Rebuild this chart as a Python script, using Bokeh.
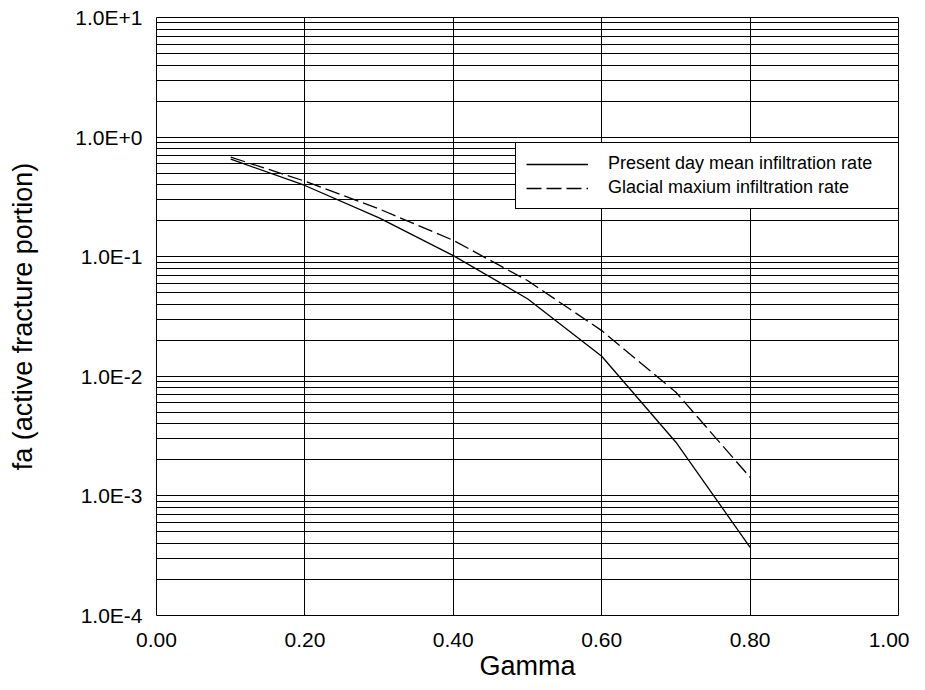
from bokeh.plotting import figure
from bokeh.models import (Range1d, FixedTicker, CustomJSTickFormatter, Legend,
                          LegendItem)
from bokeh.embed import file_html
from bokeh.resources import INLINE

# ---- data ----
gamma = [0.1, 0.2, 0.3, 0.4, 0.5, 0.6, 0.7, 0.8]
fa_present = [0.655, 0.394, 0.211, 0.102, 0.0445, 0.0147, 0.00281, 0.000372]
fa_glacial = [0.68, 0.428, 0.251, 0.137, 0.0632, 0.0241, 0.00736, 0.00143]

series_labels = ["Present day mean infiltration rate", "Glacial maxium infiltration rate"]

x_ticks = [0.0, 0.2, 0.4, 0.6, 0.8, 1.0]
x_tick_labels = ["0.00", "0.20", "0.40", "0.60", "0.80", "1.00"]
y_ticks = [1e-4, 1e-3, 1e-2, 1e-1, 1.0, 10.0]
y_tick_labels = ["1.0E-4", "1.0E-3", "1.0E-2", "1.0E-1", "1.0E+0", "1.0E+1"]
y_minor = [k * 10.0 ** e for e in range(-4, 1) for k in range(2, 10)]

x_title = "Gamma"
y_title = "fa (active fracture portion)"

FONT = "Liberation Sans"

p = figure(width=909, height=688, output_backend="svg", toolbar_location=None,
           x_range=Range1d(0, 1), y_range=Range1d(1e-4, 10), y_axis_type="log",
           min_border_left=156, min_border_right=11, min_border_top=17,
           min_border_bottom=73)
p.background_fill_color = "white"
p.border_fill_color = "white"
p.outline_line_color = "black"
p.outline_line_width = 1
p.outline_line_alpha = 1

r1 = p.line(gamma, fa_present, line_color="black", line_width=1.3)
r2 = p.line(gamma, fa_glacial, line_color="black", line_width=1.3, line_dash="15 5")

# axes
p.xaxis.ticker = FixedTicker(ticks=x_ticks)
p.xaxis.formatter = CustomJSTickFormatter(args=dict(vals=x_ticks, labels=x_tick_labels), code="""
    let best = 0, d = 1e9;
    for (let i = 0; i < vals.length; i++) { const dd = Math.abs(vals[i] - tick); if (dd < d) { d = dd; best = i; } }
    return labels[best];
""")
p.yaxis.ticker = FixedTicker(ticks=y_ticks, minor_ticks=y_minor)
p.yaxis.formatter = CustomJSTickFormatter(args=dict(vals=y_ticks, labels=y_tick_labels), code="""
    let best = 0, d = 1e9;
    for (let i = 0; i < vals.length; i++) { const dd = Math.abs(Math.log10(vals[i]) - Math.log10(tick)); if (dd < d) { d = dd; best = i; } }
    return labels[best];
""")
for ax in (p.xaxis[0], p.yaxis[0]):
    ax.axis_line_color = None
    ax.major_tick_line_color = None
    ax.minor_tick_line_color = None
    ax.major_tick_out = 0
    ax.major_tick_in = 0
    ax.minor_tick_out = 0
    ax.minor_tick_in = 0
    ax.major_label_text_font = FONT
    ax.major_label_text_font_size = "21px"
    ax.major_label_text_color = "black"
    ax.axis_label_text_font = FONT
    ax.axis_label_text_font_size = "27px"
    ax.axis_label_text_font_style = "normal"
    ax.axis_label_text_color = "black"

p.xaxis.major_label_standoff = 17
p.xaxis.axis_label = x_title
p.xaxis.axis_label_standoff = 1
p.yaxis.major_label_standoff = 14
p.yaxis.axis_label = y_title
p.yaxis.axis_label_standoff = 34

# grids
p.xgrid.ticker = FixedTicker(ticks=x_ticks)
p.xgrid.grid_line_color = "black"
p.xgrid.grid_line_width = 1
p.ygrid.ticker = FixedTicker(ticks=y_ticks, minor_ticks=y_minor)
p.ygrid.grid_line_color = "black"
p.ygrid.grid_line_width = 1
p.ygrid.minor_grid_line_color = "black"
p.ygrid.minor_grid_line_width = 1

legend = Legend(items=[LegendItem(label=series_labels[0], renderers=[r1]),
                       LegendItem(label=series_labels[1], renderers=[r2])],
                location=(359, 406))
legend.label_text_font = FONT
legend.label_text_font_size = "18px"
legend.label_text_color = "black"
legend.label_height = 20
legend.label_width = 281
legend.glyph_height = 20
legend.glyph_width = 62
legend.label_standoff = 20
legend.padding = 10
legend.spacing = 3
legend.margin = 0
legend.border_line_color = "black"
legend.border_line_width = 1
legend.border_line_alpha = 1
legend.background_fill_color = "white"
legend.background_fill_alpha = 1
p.add_layout(legend)

open("out.html", "w").write(file_html(p, INLINE))
